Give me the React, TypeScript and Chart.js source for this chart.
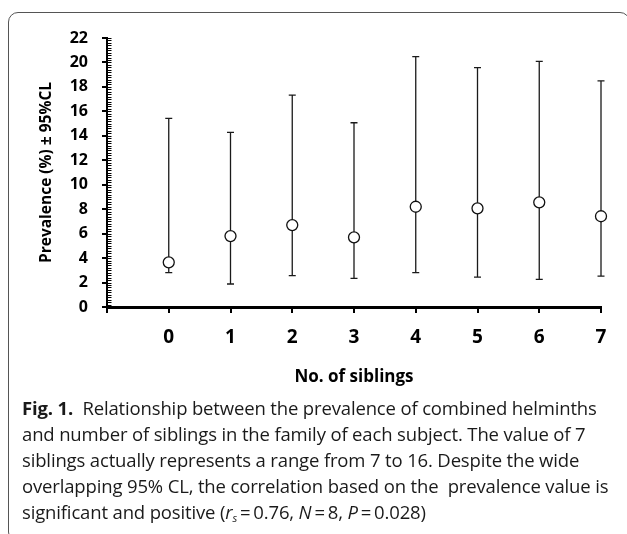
import React, { useEffect, useRef } from 'react';
import { Chart, registerables } from 'chart.js';

Chart.register(...registerables);

// ---- data ----
const siblings = [0, 1, 2, 3, 4, 5, 6, 7];
const prevalence = [3.65, 5.8, 6.7, 5.7, 8.2, 8.07, 8.56, 7.42];
const upperCL = [15.43, 14.28, 17.33, 15.07, 20.47, 19.57, 20.09, 18.5];
const lowerCL = [2.81, 1.88, 2.56, 2.34, 2.81, 2.45, 2.26, 2.53];
const xTickValues = [-1, 0, 1, 2, 3, 4, 5, 6, 7];
const xTickLabels = ['', '0', '1', '2', '3', '4', '5', '6', '7'];
const yTickValues = [0, 2, 4, 6, 8, 10, 12, 14, 16, 18, 20, 22];
const yMinorStep = 0.2;

const chartFont = '"Open Sans"';

const errorBarPlugin = {
  id: 'errorBars',
  beforeDatasetsDraw(chart: any) {
    const { ctx } = chart;
    const xs = chart.scales.x;
    const ys = chart.scales.y;
    ctx.save();
    ctx.strokeStyle = '#1a1a1a';
    ctx.lineWidth = 1.3;
    const cap = 3.5;
    siblings.forEach((s, i) => {
      const x = xs.getPixelForValue(s);
      const yU = ys.getPixelForValue(upperCL[i]);
      const yL = ys.getPixelForValue(lowerCL[i]);
      ctx.beginPath();
      ctx.moveTo(x, yU);
      ctx.lineTo(x, yL);
      ctx.moveTo(x - cap, yU);
      ctx.lineTo(x + cap, yU);
      ctx.moveTo(x - cap, yL);
      ctx.lineTo(x + cap, yL);
      ctx.stroke();
    });
    ctx.restore();
  },
};

const minorTickPlugin = {
  id: 'minorTicks',
  afterDraw(chart: any) {
    const { ctx } = chart;
    const ys = chart.scales.y;
    const xs = chart.scales.x;
    const x0 = xs.left;
    const max = yTickValues[yTickValues.length - 1];
    const n = Math.round(max / yMinorStep);
    ctx.save();
    ctx.strokeStyle = '#000';
    ctx.lineWidth = 1;
    ctx.beginPath();
    for (let i = 0; i <= n; i++) {
      const y = Math.round(ys.getPixelForValue(i * yMinorStep)) + 0.5;
      ctx.moveTo(x0, y);
      ctx.lineTo(x0 + 4.5, y);
    }
    ctx.stroke();
    ctx.restore();
  },
};

function ChartBox() {
  const ref = useRef<HTMLCanvasElement | null>(null);
  useEffect(() => {
    if (!ref.current) return;
    const chart = new Chart(ref.current, {
      type: 'scatter',
      data: {
        datasets: [
          {
            data: siblings.map((s, i) => ({ x: s, y: prevalence[i] })),
            pointRadius: 5.5,
            pointHoverRadius: 5.5,
            pointBackgroundColor: '#fff',
            pointBorderColor: '#111',
            pointBorderWidth: 1.3,
            showLine: false,
            clip: false,
          },
        ],
      },
      options: {
        animation: false,
        responsive: false,
        maintainAspectRatio: false,
        events: [],
        layout: { padding: { top: 38, left: 0, right: 26, bottom: 0 } },
        plugins: { legend: { display: false }, tooltip: { enabled: false } },
        scales: {
          x: {
            type: 'linear',
            min: -1,
            max: 7,
            afterFit(scale: any) {
              scale.height = 93;
            },
            afterBuildTicks(scale: any) {
              scale.ticks = xTickValues.map((v) => ({ value: v }));
            },
            ticks: {
              autoSkip: false,
              maxRotation: 0,
              padding: 13,
              color: '#000',
              font: { family: chartFont, size: 19, weight: 'bold' },
              callback: (v: any) => xTickLabels[xTickValues.indexOf(Number(v))] ?? '',
            },
            grid: {
              drawOnChartArea: false,
              drawTicks: true,
              tickLength: 6,
              color: '#000',
              lineWidth: 2,
            },
            border: { display: true, color: '#000', width: 3 },
            title: {
              display: true,
              text: 'No. of siblings',
              color: '#000',
              font: { family: chartFont, size: 17, weight: 'bold' },
              padding: { top: 0, bottom: 13 },
            },
          },
          y: {
            min: 0,
            max: 22,
            afterFit(scale: any) {
              scale.width = 107;
            },
            afterBuildTicks(scale: any) {
              scale.ticks = yTickValues.map((v) => ({ value: v }));
            },
            ticks: {
              padding: 14,
              color: '#000',
              font: { family: chartFont, size: 16, weight: 'bold' },
            },
            grid: {
              drawOnChartArea: false,
              drawTicks: true,
              tickLength: 5,
              color: '#000',
              lineWidth: 2,
            },
            border: { display: true, color: '#000', width: 2 },
            title: {
              display: true,
              text: 'Prevalence (%) ± 95%CL',
              color: '#000',
              font: { family: chartFont, size: 15.5, weight: 'bold' },
              padding: { top: 37, bottom: 0 },
            },
          },
        },
      },
      plugins: [errorBarPlugin, minorTickPlugin],
    });
    return () => chart.destroy();
  }, []);
  return (
    <canvas
      ref={ref}
      width={627}
      height={400}
      style={{ position: 'absolute', left: 0, top: 0, width: 627, height: 400 }}
    />
  );
}

const captionLines = [
  'Relationship between the prevalence of combined helminths',
  'and number of siblings in the family of each subject. The value of 7',
  'siblings actually represents a range from 7 to 16. Despite the wide',
  'overlapping 95% CL, the correlation based on the  prevalence value is',
];

export default function App() {
  const lineStyle: React.CSSProperties = { whiteSpace: 'pre', height: 26, lineHeight: '26px' };
  return (
    <div
      style={{
        position: 'absolute',
        left: 0,
        top: 0,
        width: 627,
        height: 534,
        overflow: 'hidden',
        background: '#fff',
      }}
    >
      <div
        style={{
          position: 'absolute',
          left: 8,
          top: 12,
          width: 622,
          height: 530,
          border: '1.5px solid #555',
          borderRadius: 10,
          boxSizing: 'border-box',
        }}
      />
      <ChartBox />
      <div
        style={{
          position: 'absolute',
          left: 22,
          top: 395,
          fontFamily: '"Open Sans", sans-serif',
          fontSize: 18.5,
          color: '#1a1a1a',
          letterSpacing: '-0.15px',
        }}
      >
        <div style={lineStyle}>
          <b>Fig. 1.</b>
          {'  ' + captionLines[0]}
        </div>
        <div style={lineStyle}>{captionLines[1]}</div>
        <div style={lineStyle}>{captionLines[2]}</div>
        <div style={lineStyle}>{captionLines[3]}</div>
        <div style={lineStyle}>
          {'significant and positive ('}
          <i>r</i>
          <sub style={{ fontSize: 11, fontStyle: 'italic', verticalAlign: '-3px' }}>s</sub>
          {'\u2009=\u20090.76, '}
          <i>N</i>
          {'\u2009=\u20098, '}
          <i>P</i>
          {'\u2009=\u20090.028)'}
        </div>
      </div>
    </div>
  );
}
